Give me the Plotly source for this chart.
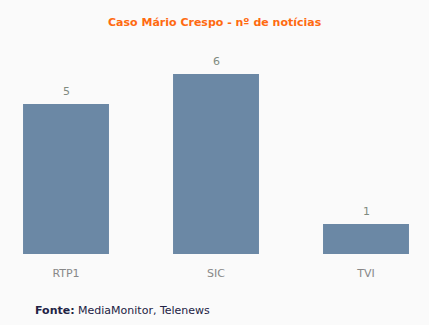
import plotly.graph_objects as go

categories = ["RTP1", "SIC", "TVI"]
values = [5, 6, 1]
title_text = "Caso Mário Crespo - nº de notícias"
source_bold = "Fonte:"
source_text = "MediaMonitor, Telenews"

bar_color = "#6B88A5"
bg = "#FAFAFA"

fig = go.Figure()
fig.add_trace(go.Bar(
    x=list(range(len(categories))), y=values,
    marker=dict(color=bar_color, line=dict(width=0)),
    width=0.573, hoverinfo="skip",
))
for i, v in enumerate(values):
    fig.add_annotation(x=i, y=v, text=str(v), showarrow=False, yanchor="bottom",
                       yshift=4, font=dict(family="DejaVu Sans", size=11, color="#7F8A7F"))

fig.add_annotation(xref="paper", yref="paper", x=0.5, y=1, yanchor="bottom", yshift=9,
                   text="<b>" + title_text + "</b>", showarrow=False,
                   font=dict(family="DejaVu Sans", size=11, color="#FF6A10"))
fig.add_annotation(xref="paper", yref="paper", x=33/429, xanchor="left", y=0, yanchor="top",
                   yshift=-48, text="<b>" + source_bold + "</b> " + source_text, showarrow=False,
                   font=dict(family="DejaVu Sans", size=11, color="#222244"))

fig.update_layout(
    width=429, height=325, margin=dict(l=0, r=0, t=40, b=71),
    paper_bgcolor=bg, plot_bgcolor=bg, showlegend=False,
    xaxis=dict(range=[-0.44, 2.42], tickvals=list(range(len(categories))), ticktext=categories,
               showgrid=False, zeroline=False, showline=False, ticks="",
               tickfont=dict(family="DejaVu Sans", size=11, color="#888888"),
               ticklabelstandoff=11, fixedrange=True),
    yaxis=dict(range=[0, 214/30], visible=False, showgrid=False, zeroline=False, fixedrange=True),
)
fig.write_html("out.html", config={"displayModeBar": False})
